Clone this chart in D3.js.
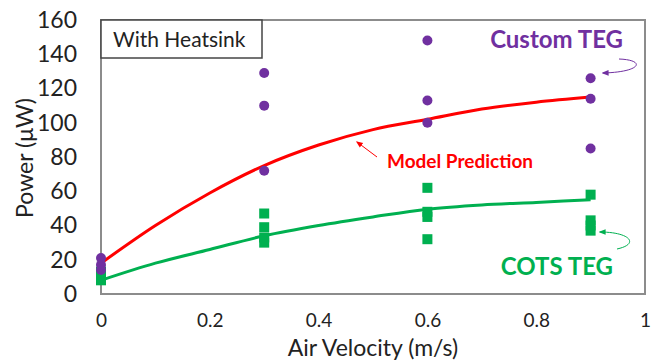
<!DOCTYPE html>
<html>
<head>
<meta charset="utf-8">
<script src="https://cdn.jsdelivr.net/npm/d3@7"></script>
<style>
  body { margin: 0; background: #fff; }
  svg { display: block; font-family: Lato, "Open Sans", sans-serif; }
</style>
</head>
<body>
<div id="chart"></div>
<script>
// measured points (air velocity m/s, power uW)
const customVel = [0, 0, 0, 0.3, 0.3, 0.3, 0.6, 0.6, 0.6, 0.9, 0.9, 0.9];
const customPow = [14, 17, 21, 129, 110, 72, 148, 113, 100, 126, 114, 85];
const cotsVel = [0, 0, 0, 0.3, 0.3, 0.3, 0.3, 0.6, 0.6, 0.6, 0.6, 0.9, 0.9, 0.9, 0.9];
const cotsPow = [8, 10, 13, 47, 39, 33, 30, 62, 48, 45, 32, 58, 43, 40, 37];

// model curves
const modelVel = [0, 0.1, 0.2, 0.3, 0.4, 0.5, 0.6, 0.7, 0.8, 0.9];
const customModel = [18, 40, 59, 75, 87, 96, 102, 108, 112, 115];
const cotsModel = [8, 18, 26, 34, 40, 45, 49.5, 52, 53.5, 55];

const xTicks = [0, 0.2, 0.4, 0.6, 0.8, 1];
const yTicks = [0, 20, 40, 60, 80, 100, 120, 140, 160];

const W = 652, H = 362;
const margin = { top: 20, right: 7, bottom: 68, left: 101 };

const purple = '#7030a0';
const red = '#ff0000';
const green = '#00b050';

const svg = d3.select('#chart')
  .append('svg')
  .attr('width', W)
  .attr('height', H);

const x = d3.scaleLinear().domain([0, 1]).range([margin.left, W - margin.right]);
const y = d3.scaleLinear().domain([0, 160]).range([H - margin.bottom, margin.top]);

// frame
svg.append('rect')
  .attr('x', x(0))
  .attr('y', y(160))
  .attr('width', x(1) - x(0))
  .attr('height', y(0) - y(160))
  .attr('fill', 'none')
  .attr('stroke', '#8c8c8c')
  .attr('stroke-width', 2);

// y axis
const yAxis = svg.append('g')
  .attr('transform', `translate(${x(0)},0)`)
  .call(d3.axisLeft(y).tickValues(yTicks).tickSize(0).tickPadding(24));
yAxis.select('.domain').remove();
yAxis.selectAll('text')
  .style('font-size', '23px')
  .style('font-family', 'Lato, sans-serif')
  .attr('fill', '#222');

// x axis
const xAxis = svg.append('g')
  .attr('transform', `translate(0,${y(0)})`)
  .call(d3.axisBottom(x).tickValues(xTicks).tickFormat(d3.format('')).tickSize(0).tickPadding(20));
xAxis.select('.domain').remove();
xAxis.selectAll('text')
  .style('font-size', '19px')
  .style('font-family', 'Lato, sans-serif')
  .attr('fill', '#222');

svg.append('text')
  .attr('x', x(0.5))
  .attr('y', 356)
  .attr('text-anchor', 'middle')
  .style('font-size', '23px')
  .attr('fill', '#222')
  .text('Air Velocity (m/s)');

svg.append('text')
  .attr('transform', `translate(33,${y(80) + 1}) rotate(-90)`)
  .attr('text-anchor', 'middle')
  .style('font-size', '23px')
  .attr('fill', '#222')
  .text('Power (\u03bcW)');

// label box
svg.append('rect')
  .attr('x', x(0))
  .attr('y', y(160))
  .attr('width', 161)
  .attr('height', 38)
  .attr('fill', '#fff')
  .attr('stroke', '#444')
  .attr('stroke-width', 1.5);
svg.append('text')
  .attr('x', x(0) + 12)
  .attr('y', y(160) + 27)
  .style('font-size', '21px')
  .attr('fill', '#222')
  .text('With Heatsink');

// model curves
const line = d3.line()
  .x((d, i) => x(modelVel[i]))
  .y(d => y(d))
  .curve(d3.curveMonotoneX);

svg.append('path')
  .datum(cotsModel)
  .attr('d', line)
  .attr('fill', 'none')
  .attr('stroke', green)
  .attr('stroke-width', 3);

svg.append('path')
  .datum(customModel)
  .attr('d', line)
  .attr('fill', 'none')
  .attr('stroke', red)
  .attr('stroke-width', 3);

// points
svg.append('g')
  .selectAll('rect')
  .data(cotsPow)
  .join('rect')
  .attr('x', (d, i) => x(cotsVel[i]) - 5)
  .attr('y', d => y(d) - 5)
  .attr('width', 10)
  .attr('height', 10)
  .attr('fill', green);

svg.append('g')
  .selectAll('circle')
  .data(customPow)
  .join('circle')
  .attr('cx', (d, i) => x(customVel[i]))
  .attr('cy', d => y(d))
  .attr('r', 5)
  .attr('fill', purple);

// annotations
const defs = svg.append('defs');
[['arrRed', red], ['arrPurple', purple], ['arrGreen', green]].forEach(([id, c]) => {
  defs.append('marker')
    .attr('id', id)
    .attr('viewBox', '0 -5 10 10')
    .attr('refX', 8)
    .attr('refY', 0)
    .attr('orient', 'auto')
    .attr('markerWidth', 7)
    .attr('markerHeight', 7)
    .append('path')
    .attr('d', 'M0,-4L10,0L0,4Z')
    .attr('fill', c);
});

svg.append('text')
  .attr('x', 623)
  .attr('y', 48)
  .attr('text-anchor', 'end')
  .style('font-size', '24px')
  .style('font-weight', 'bold')
  .attr('fill', purple)
  .text('Custom TEG');

svg.append('path')
  .attr('d', 'M619,59 C646,60 642,72 603,73')
  .attr('fill', 'none')
  .attr('stroke', purple)
  .attr('stroke-width', 1)
  .attr('marker-end', 'url(#arrPurple)');

svg.append('text')
  .attr('x', 613)
  .attr('y', 275)
  .attr('text-anchor', 'end')
  .style('font-size', '24px')
  .style('font-weight', 'bold')
  .attr('fill', green)
  .text('COTS TEG');

svg.append('path')
  .attr('d', 'M617,249 C640,244 630,232 600,232')
  .attr('fill', 'none')
  .attr('stroke', green)
  .attr('stroke-width', 1)
  .attr('marker-end', 'url(#arrGreen)');

svg.append('text')
  .attr('x', 387)
  .attr('y', 168)
  .style('font-size', '19px')
  .style('font-weight', 'bold')
  .attr('fill', red)
  .text('Model Prediction');

svg.append('path')
  .attr('d', 'M377,157 L357,142')
  .attr('fill', 'none')
  .attr('stroke', red)
  .attr('stroke-width', 1)
  .attr('marker-end', 'url(#arrRed)');
</script>
</body>
</html>
